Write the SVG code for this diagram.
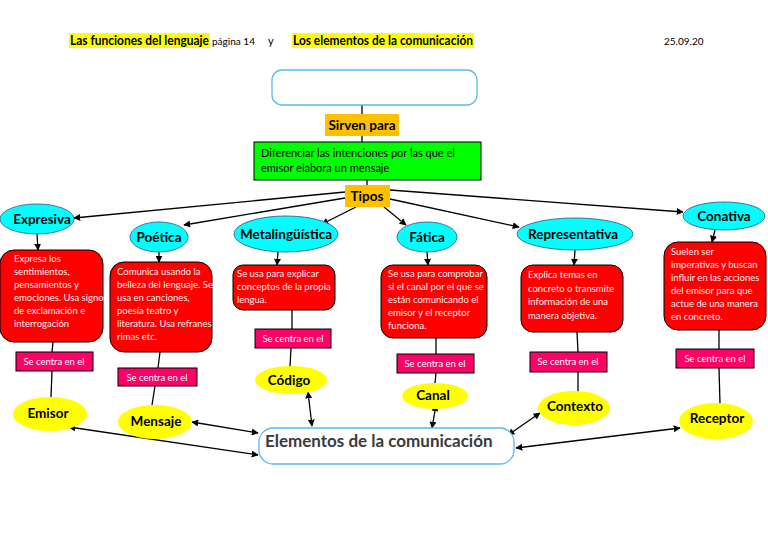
<svg xmlns="http://www.w3.org/2000/svg" width="768" height="543" viewBox="0 0 768 543">
<style>
.t{font-family:Lato,"Noto Sans",sans-serif}
.h{font-family:Lato,"Noto Sans",sans-serif;font-weight:bold;font-size:12.5px;fill:#000}
.cy{fill:#00ffff;stroke:#41719c;stroke-width:1}
.cl{font-family:Lato,"Noto Sans",sans-serif;font-weight:bold;font-size:13.5px;fill:#000;text-anchor:middle}
.rd{fill:#ff0000;stroke:#000;stroke-width:1}
.rt{font-family:Lato,"Noto Sans",sans-serif;font-size:9.5px;fill:#fff0f0}
.pk{fill:#ff0066;stroke:#000;stroke-width:1}
.pt{font-family:Lato,"Noto Sans",sans-serif;font-size:9.5px;fill:#fff;text-anchor:middle}
.ye{fill:#ffff00}
.or{fill:#ffc000}
.ln{stroke:#000;stroke-width:1.3;fill:none}
.a{marker-end:url(#ah)}
.d{marker-end:url(#ah);marker-start:url(#as)}
</style>
<defs>
<marker id="ah" viewBox="0 0 10 10" refX="9" refY="5" markerWidth="7" markerHeight="7" markerUnits="userSpaceOnUse" orient="auto"><path d="M0,0L10,5L0,10z" fill="#000"/></marker>
<marker id="as" viewBox="0 0 10 10" refX="1" refY="5" markerWidth="7" markerHeight="7" markerUnits="userSpaceOnUse" orient="auto"><path d="M10,0L0,5L10,10z" fill="#000"/></marker>
</defs>
<rect width="768" height="543" fill="#fff"/>
<g id="header">
<rect x="69" y="33" width="141" height="15" fill="#ffff00"/>
<rect x="292" y="33" width="182" height="15" fill="#ffff00"/>
<text class="h" x="70" y="45" textLength="139" lengthAdjust="spacingAndGlyphs">Las funciones del lenguaje</text>
<text class="t" x="212" y="45" font-size="9.5" textLength="43" lengthAdjust="spacingAndGlyphs">página 14</text>
<text class="t" x="268" y="45" font-size="11">y</text>
<text class="h" x="293" y="45" textLength="180" lengthAdjust="spacingAndGlyphs">Los elementos de la comunicación</text>
<text class="t" x="664" y="45" font-size="10">25.09.20</text>
</g>
<g id="connectors">
<line class="ln" x1="362" y1="105" x2="362" y2="114"/>
<line class="ln" x1="362" y1="136" x2="362" y2="142"/>
<line class="ln" x1="367" y1="180" x2="367" y2="185"/>
<line class="ln a" x1="345" y1="192" x2="74" y2="218"/>
<line class="ln a" x1="345" y1="198" x2="184" y2="225"/>
<line class="ln a" x1="356" y1="207" x2="322" y2="224"/>
<line class="ln a" x1="384" y1="207" x2="406" y2="225"/>
<line class="ln a" x1="390" y1="199" x2="519" y2="227"/>
<line class="ln a" x1="390" y1="190" x2="683" y2="212"/>
<line class="ln a" x1="37" y1="234" x2="38" y2="250"/>
<line class="ln a" x1="159" y1="252" x2="159" y2="262"/>
<line class="ln a" x1="278" y1="252" x2="277" y2="265"/>
<line class="ln a" x1="427" y1="252" x2="428" y2="265"/>
<line class="ln a" x1="575" y1="250" x2="574" y2="265"/>
<line class="ln a" x1="715" y1="230" x2="712" y2="242"/>
<line class="ln" x1="53" y1="342" x2="52" y2="352"/>
<line class="ln" x1="160" y1="352" x2="158" y2="368"/>
<line class="ln" x1="292" y1="310" x2="292" y2="329"/>
<line class="ln" x1="436" y1="338" x2="436" y2="354"/>
<line class="ln" x1="577" y1="332" x2="578" y2="352"/>
<line class="ln" x1="719" y1="330" x2="719" y2="349"/>
<line class="ln" x1="52" y1="371" x2="51" y2="397"/>
<line class="ln" x1="155" y1="386" x2="152" y2="405"/>
<line class="ln" x1="291" y1="348" x2="290" y2="367"/>
<line class="ln" x1="436" y1="373" x2="435" y2="383"/>
<line class="ln" x1="578" y1="372" x2="578" y2="392"/>
<line class="ln" x1="719" y1="368" x2="720" y2="404"/>
<line class="ln d" x1="69" y1="427" x2="258" y2="455"/>
<line class="ln d" x1="192" y1="422" x2="258" y2="433"/>
<line class="ln d" x1="308" y1="392" x2="312" y2="426"/>
<line class="ln d" x1="436" y1="405" x2="432" y2="428"/>
<line class="ln d" x1="540" y1="413" x2="508" y2="435"/>
<line class="ln d" x1="680" y1="428" x2="516" y2="448"/>
</g>
<g id="top-box"><rect x="272" y="70" width="205" height="35" rx="10" fill="#fff" stroke="#5bb9ef" stroke-width="1.3"/></g>
<g id="sirven"><rect class="or" x="325" y="114" width="74" height="22"/><text class="cl" x="362" y="130">Sirven para</text></g>
<g id="diferenciar"><rect x="254" y="142" width="227" height="38" fill="#00ff00" stroke="#000"/>
<text class="t" x="261" y="157" font-size="11">Diferenciar las intenciones por las que el</text>
<text class="t" x="261" y="172" font-size="11">emisor elabora un mensaje</text></g>
<g id="tipos"><rect class="or" x="345" y="185" width="45" height="22"/><text class="cl" x="367" y="201">Tipos</text></g>
<g id="expresiva"><ellipse class="cy" cx="37" cy="219" rx="37" ry="15"/><text class="cl" x="42" y="224">Expresiva</text></g>
<g id="poetica"><ellipse class="cy" cx="159" cy="237" rx="29" ry="15"/><text class="cl" x="159" y="242">Poética</text></g>
<g id="metalinguistica"><ellipse class="cy" cx="286" cy="234" rx="52" ry="18"/><text class="cl" x="286" y="239">Metalingüística</text></g>
<g id="fatica"><ellipse class="cy" cx="427" cy="237" rx="30" ry="15"/><text class="cl" x="427" y="242">Fática</text></g>
<g id="representativa"><ellipse class="cy" cx="575" cy="234" rx="58" ry="16"/><text class="cl" x="573" y="239">Representativa</text></g>
<g id="conativa"><ellipse class="cy" cx="724" cy="216" rx="41" ry="14"/><text class="cl" x="724" y="221">Conativa</text></g>
<g id="expresiva-desc"><rect class="rd" x="0" y="250" width="103" height="92" rx="14"/>
<text class="rt" x="14"><tspan x="14" y="262">Expresa los</tspan><tspan x="14" y="275">sentimientos,</tspan><tspan x="14" y="288">pensamientos y</tspan><tspan x="14" y="301">emociones. Usa signo</tspan><tspan x="14" y="314">de exclamación e</tspan><tspan x="14" y="327">interrogación</tspan></text></g>
<g id="poetica-desc"><rect class="rd" x="110" y="262" width="102" height="90" rx="14"/>
<text class="rt"><tspan x="117" y="275">Comunica usando la</tspan><tspan x="117" y="288">belleza del lenguaje. Se</tspan><tspan x="117" y="301">usa en canciones,</tspan><tspan x="117" y="314">poesía teatro y</tspan><tspan x="117" y="327">literatura. Usa refranes</tspan><tspan x="117" y="340">rimas etc.</tspan></text></g>
<g id="metalinguistica-desc"><rect class="rd" x="233" y="265" width="102" height="45" rx="10"/>
<text class="rt"><tspan x="237" y="277">Se usa para explicar</tspan><tspan x="237" y="290">conceptos de la propia</tspan><tspan x="237" y="303">lengua.</tspan></text></g>
<g id="fatica-desc"><rect class="rd" x="381" y="265" width="106" height="73" rx="12"/>
<text class="rt"><tspan x="388" y="277">Se usa para comprobar</tspan><tspan x="388" y="290">si el canal por el que se</tspan><tspan x="388" y="303">están comunicando el</tspan><tspan x="388" y="316">emisor y el receptor</tspan><tspan x="388" y="329">funciona.</tspan></text></g>
<g id="representativa-desc"><rect class="rd" x="521" y="265" width="102" height="67" rx="12"/>
<text class="rt"><tspan x="528" y="278">Explica temas en</tspan><tspan x="528" y="292">concreto o transmite</tspan><tspan x="528" y="305">información de una</tspan><tspan x="528" y="319">manera objetiva.</tspan></text></g>
<g id="conativa-desc"><rect class="rd" x="664" y="242" width="102" height="88" rx="14"/>
<text class="rt"><tspan x="671" y="255">Suelen ser</tspan><tspan x="671" y="268">imperativas y buscan</tspan><tspan x="671" y="281">influir en las acciones</tspan><tspan x="671" y="294">del emisor para que</tspan><tspan x="671" y="307">actue de una manera</tspan><tspan x="671" y="320">en concreto.</tspan></text></g>
<g id="centra1"><rect class="pk" x="16" y="352" width="77" height="19"/><text class="pt" x="54" y="365">Se centra en el</text></g>
<g id="centra2"><rect class="pk" x="118" y="368" width="79" height="18"/><text class="pt" x="157" y="381">Se centra en el</text></g>
<g id="centra3"><rect class="pk" x="255" y="329" width="76" height="19"/><text class="pt" x="293" y="342">Se centra en el</text></g>
<g id="centra4"><rect class="pk" x="397" y="354" width="77" height="19"/><text class="pt" x="435" y="367">Se centra en el</text></g>
<g id="centra5"><rect class="pk" x="530" y="352" width="77" height="20"/><text class="pt" x="568" y="365">Se centra en el</text></g>
<g id="centra6"><rect class="pk" x="676" y="349" width="78" height="19"/><text class="pt" x="715" y="362">Se centra en el</text></g>
<g id="emisor"><ellipse class="ye" cx="50" cy="414" rx="37" ry="17"/><text class="cl" x="48" y="418">Emisor</text></g>
<g id="mensaje"><ellipse class="ye" cx="155" cy="422" rx="37" ry="17"/><text class="cl" x="156" y="426">Mensaje</text></g>
<g id="codigo"><ellipse class="ye" cx="291" cy="380" rx="36" ry="14"/><text class="cl" x="289" y="385">Código</text></g>
<g id="canal"><ellipse class="ye" cx="435" cy="396" rx="33" ry="13"/><text class="cl" x="433" y="400">Canal</text></g>
<g id="contexto"><ellipse class="ye" cx="574" cy="408" rx="36" ry="17"/><text class="cl" x="575" y="411">Contexto</text></g>
<g id="receptor"><ellipse class="ye" cx="716" cy="421" rx="37" ry="18"/><text class="cl" x="717" y="423">Receptor</text></g>
<g id="elementos"><rect x="259" y="428" width="255" height="36" rx="14" fill="#fff" stroke="#5bb9ef" stroke-width="1.3"/>
<text class="t" x="265" y="447" font-size="17" font-weight="bold" fill="#3a3a3a">Elementos de la comunicación</text></g>
</svg>
